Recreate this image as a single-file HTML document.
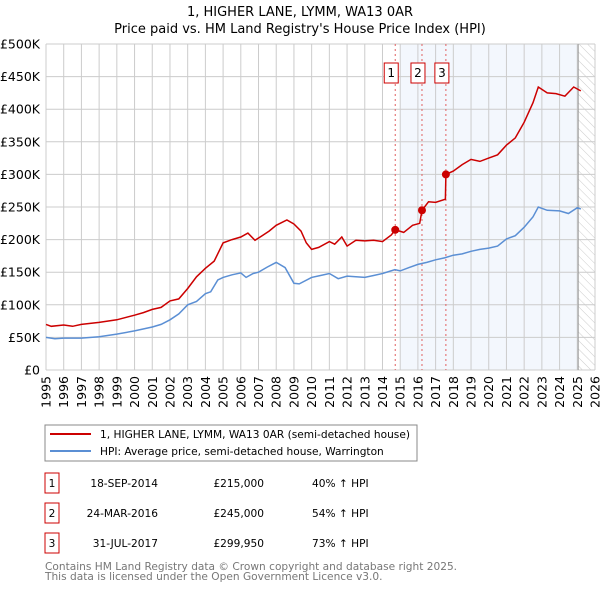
<!DOCTYPE html>
<html><head><meta charset="utf-8"><style>
body{margin:0;background:#fff;font-family:"DejaVu Sans","Liberation Sans",sans-serif;}
svg text{font-family:"DejaVu Sans","Liberation Sans",sans-serif;}
</style></head><body>
<svg id="c" width="600" height="590" viewBox="0 0 600 590" xmlns="http://www.w3.org/2000/svg">
<defs><pattern id="hatch" width="6" height="6" patternUnits="userSpaceOnUse" patternTransform="rotate(-45)"><line x1="0" y1="0" x2="0" y2="6" stroke="#ccc" stroke-width="1"/></pattern></defs>
<text x="300" y="16" text-anchor="middle" font-size="13">1, HIGHER LANE, LYMM, WA13 0AR</text>
<text x="300" y="33" text-anchor="middle" font-size="13">Price paid vs. HM Land Registry's House Price Index (HPI)</text>
<g id="plot"></g>
<g>
<rect x="45" y="425" width="372" height="36" fill="#fff" stroke="#888"/>
<line x1="50" y1="434" x2="91" y2="434" stroke="#cc0000" stroke-width="2"/>
<text x="100" y="438" font-size="10.6">1, HIGHER LANE, LYMM, WA13 0AR (semi-detached house)</text>
<line x1="50" y1="451" x2="91" y2="451" stroke="#5b8fd4" stroke-width="2"/>
<text x="100" y="455" font-size="10.6">HPI: Average price, semi-detached house, Warrington</text>
</g>
<g id="table" font-size="10.6"></g>
<text x="45" y="570" font-size="10.6" fill="#777">Contains HM Land Registry data © Crown copyright and database right 2025.</text>
<text x="45" y="580" font-size="10.6" fill="#777">This data is licensed under the Open Government Licence v3.0.</text>
</svg>
<script>
const hpiYears=[1995,1995.5,1996,1997,1998,1999,2000,2001,2001.5,2002,2002.5,2003,2003.5,2004,2004.3,2004.7,2005,2005.5,2006,2006.3,2006.7,2007,2007.5,2008,2008.5,2009,2009.3,2010,2010.5,2011,2011.5,2012,2012.5,2013,2013.5,2014,2014.7,2015,2015.5,2016,2016.5,2017,2017.5,2018,2018.5,2019,2019.5,2020,2020.5,2021,2021.5,2022,2022.5,2022.8,2023.3,2024,2024.5,2025,2025.2];
const hpiValues=[50,48,49,49,51,55,60,66,70,77,86,100,105,117,120,138,142,146,149,142,148,150,158,165,157,133,132,142,145,148,140,144,143,142,145,148,154,152,157,162,165,169,172,176,178,182,185,187,190,201,206,219,235,250,245,244,240,249,247];
const propYears=[1995,1995.3,1996,1996.5,1997,1998,1999,2000,2000.5,2001,2001.5,2002,2002.5,2003,2003.5,2004,2004.5,2005,2005.5,2006,2006.4,2006.8,2007.2,2007.6,2008,2008.6,2009,2009.4,2009.7,2010,2010.4,2011,2011.3,2011.7,2012,2012.5,2013,2013.5,2014,2014.5,2014.72,2015.2,2015.7,2016.1,2016.23,2016.6,2017,2017.55,2017.58,2018,2018.5,2019,2019.5,2020,2020.5,2021,2021.5,2022,2022.5,2022.8,2023.3,2023.8,2024.3,2024.8,2025.2];
const propValues=[70,67,69,67,70,73,77,84,88,93,96,106,109,125,143,156,167,195,200,204,210,199,206,213,222,230,224,213,195,185,188,197,193,204,190,199,198,199,197,207,215,211,222,225,245,258,257,262,299.95,305,315,323,320,325,330,345,356,380,410,434,425,424,420,434,428];
const saleLabels=["1","2","3"];
const saleYears=[2014.72,2016.23,2017.58];
const saleValues=[215,245,299.95];
const saleDates=["18-SEP-2014","24-MAR-2016","31-JUL-2017"];
const salePrices=["£215,000","£245,000","£299,950"];
const saleHpi=["40% ↑ HPI","54% ↑ HPI","73% ↑ HPI"];
const yTicks=[0,50,100,150,200,250,300,350,400,450,500];
const yTickLabels=["£0","£50K","£100K","£150K","£200K","£250K","£300K","£350K","£400K","£450K","£500K"];
const xTicks=[1995,1996,1997,1998,1999,2000,2001,2002,2003,2004,2005,2006,2007,2008,2009,2010,2011,2012,2013,2014,2015,2016,2017,2018,2019,2020,2021,2022,2023,2024,2025,2026];

const X0=46,X1=595,Y0=370,Y1=44;
const xs=y=>X0+(y-1995)/(2026-1995)*(X1-X0);
const ys=v=>Y0-v/500*(Y0-Y1);
const NS="http://www.w3.org/2000/svg";
const plot=document.getElementById('plot');
function mk(tag,attrs,parent){const e=document.createElementNS(NS,tag);for(const k in attrs)e.setAttribute(k,attrs[k]);(parent||plot).appendChild(e);return e;}
let e;
e=mk('rect',{x:X0,y:Y1,width:X1-X0,height:Y0-Y1,fill:'#fff'});


e=mk('rect',{x:xs(2015),y:Y1,width:xs(2025.05)-xs(2015),height:Y0-Y1,fill:'#eef3fc',opacity:0.7});


e=mk('rect',{x:xs(2025.05),y:Y1,width:X1-xs(2025.05),height:Y0-Y1,fill:'url(#hatch)'});


xTicks.forEach(t=>{
 e=mk('line',{x1:xs(t),x2:xs(t),y1:Y1,y2:Y0,stroke:'#ccc','stroke-width':1});
 
 
 e=mk('text',{x:0,y:0,'font-size':12.5,'text-anchor':'end',transform:`translate(${xs(t)+4.5},${Y0+6}) rotate(-90)`});
 e.textContent=t;
 
 
});
yTicks.forEach((t,i)=>{
 e=mk('line',{x1:X0,x2:X1,y1:ys(t),y2:ys(t),stroke:'#ccc','stroke-width':1});
 
 
 e=mk('text',{x:X0-6,y:ys(t)+4.5,'font-size':12.5,'text-anchor':'end'});
 e.textContent=yTickLabels[i];
 
 
});
e=mk('line',{x1:xs(2025.05),x2:xs(2025.05),y1:Y1,y2:Y0,stroke:'#999','stroke-width':1});


saleYears.forEach((y,i)=>{
 e=mk('line',{x1:xs(y),x2:xs(y),y1:Y1,y2:Y0,stroke:'#e06060','stroke-width':1,'stroke-dasharray':'2,3'});
 
 
});
const path=(xa,va)=>xa.map((y,i)=>(i?'L':'M')+xs(y).toFixed(1)+','+ys(va[i]).toFixed(1)).join('');
e=mk('path',{d:path(hpiYears,hpiValues),fill:'none',stroke:'#5b8fd4','stroke-width':1.5});


e=mk('path',{d:path(propYears,propValues),fill:'none',stroke:'#cc0000','stroke-width':1.5});


saleYears.forEach((y,i)=>{
 e=mk('circle',{cx:xs(y),cy:ys(saleValues[i]),r:4,fill:'#cc0000'});
 
 
 const bx=xs(y)-4;
 e=mk('rect',{x:bx-7,y:63,width:14,height:20,fill:'#fff',stroke:'#cc0000'});
 
 
 e=mk('text',{x:bx,y:77,'font-size':12,'text-anchor':'middle'});
 e.textContent=saleLabels[i];
 
 
});
const tb=document.getElementById('table');
saleLabels.forEach((l,i)=>{
 const cy=487+i*30;
 e=mk('rect',{x:45,y:cy-14,width:14,height:20,fill:'#fff',stroke:'#cc0000'},tb);
 
 
 e=mk('text',{x:52,y:cy,'text-anchor':'middle'},tb);e.textContent=l;
 
 
 e=mk('text',{x:158,y:cy,'text-anchor':'end'},tb);e.textContent=saleDates[i];
 
 
 e=mk('text',{x:264,y:cy,'text-anchor':'end'},tb);e.textContent=salePrices[i];
 
 
 e=mk('text',{x:312,y:cy},tb);e.textContent=saleHpi[i];
 
 
});
</script>
</body></html>
